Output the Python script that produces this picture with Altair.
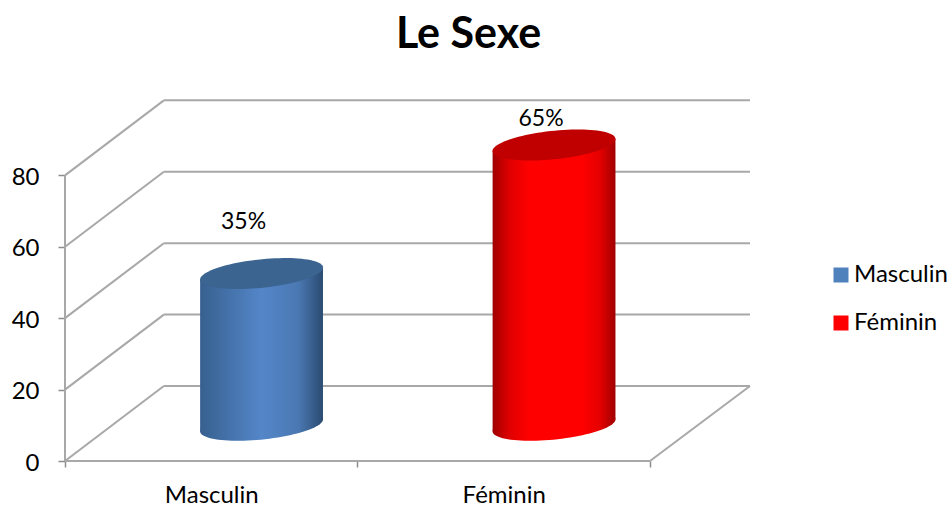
import altair as alt
import numpy as np
import pandas as pd

# Survey counts per sex and the axis levels of the chart
categories = ["Masculin", "Féminin"]
counts = [42.5, 78.5]
levels = [0, 20, 40, 60, 80]

FONT = "Lato"
GRID = "#a8a8a8"
X_MAX = 2.342      # right end of the back wall, in category units
Y_MAX = 101.1      # top of the back wall, in axis units
DEPTH_X = 0.338    # horizontal shift between front and back planes
DEPTH_Y = 21.0     # vertical shift between front and back planes
MID_X = 0.672      # cylinder centre inside its category slot
MID_Y = 10.0       # cylinder base sits about halfway along the floor depth
HALF_W = 0.21      # cylinder half width
TILT = 1.68        # rise of the rim from its centre to either side

STYLES = {
    "Masculin": dict(
        top="#3c6491",
        stops=[(0, "#37608f"), (0.5, "#5486c8"), (0.8, "#4a78b2"), (1, "#2b4b72")],
        dx=-18, dy=-52,
    ),
    "Féminin": dict(
        top="#c00000",
        stops=[(0, "#a00000"), (0.14, "#e00000"), (0.3, "#ff0000"), (0.72, "#ff0000"), (0.87, "#e60000"), (1, "#a00000")],
        dx=-13, dy=-26,
    ),
}

label_expr = "datum.value==0.5?'{}':datum.value==1.5?'{}':''".format(*categories)
tick_test = "datum.value==0.5||datum.value==1.5"

x_axis = alt.Axis(
    values=[0, 0.5, 1, 1.5, 2],
    title=None, grid=False, domain=False,
    tickSize=6, tickWidth=1.5, tickColor="#8c8c8c",
    tickOpacity={"condition": {"test": tick_test, "value": 0}, "value": 1},
    labelExpr=label_expr, labelOverlap=False, labelPadding=16,
    labelFont=FONT, labelFontSize=24, labelColor="#000000",
)
y_axis = alt.Axis(
    values=levels,
    title=None, grid=False, domain=False,
    tickSize=7, tickWidth=1.5, tickColor="#8c8c8c",
    labelPadding=19, labelOffset=2, labelFont=FONT, labelFontSize=24, labelColor="#000000",
)

xs = alt.Scale(domain=[0, X_MAX], nice=False, zero=False)
ys = alt.Scale(domain=[0, Y_MAX], nice=False, zero=False)


def X(field="x"):
    return alt.X(f"{field}:Q", scale=xs, axis=x_axis)


def Y(field="y"):
    return alt.Y(f"{field}:Q", scale=ys, axis=y_axis)


def ellipse_path(ratio=0.23, angle_deg=-5.9, n=90):
    """Unit-width tilted ellipse as an SVG path for a custom point shape."""
    t = np.linspace(0, 2 * np.pi, n, endpoint=False)
    a = np.radians(angle_deg)
    px = np.cos(t) * np.cos(a) - ratio * np.sin(t) * np.sin(a)
    py = np.cos(t) * np.sin(a) + ratio * np.sin(t) * np.cos(a)
    pts = [f"{u:.4f},{v:.4f}" for u, v in zip(px, py)]
    return "M" + " L".join(pts) + " Z"


ELLIPSE = ellipse_path()
ELLIPSE_SIZE = 15277

# Wall and floor lines
grid_rows = []
for lv in levels:
    grid_rows.append(dict(x=DEPTH_X, x2=X_MAX, y=lv + DEPTH_Y, y2=lv + DEPTH_Y))
    grid_rows.append(dict(x=0, x2=DEPTH_X, y=lv, y2=lv + DEPTH_Y))
grid_rows.append(dict(x=0, x2=2, y=0, y2=0))
grid_rows.append(dict(x=2, x2=X_MAX, y=0, y2=DEPTH_Y))
grid_rows.append(dict(x=0, x2=0, y=0, y2=levels[-1]))
grid_df = pd.DataFrame(grid_rows)

grid = alt.Chart(grid_df).mark_rule(color=GRID, strokeWidth=2).encode(
    x=X(), x2="x2:Q", y=Y(), y2="y2:Q",
)

layers = [grid]

# Flat-coloured core of each cylinder, which also carries the legend
core_df = pd.DataFrame({
    "sex": categories,
    "x": [i + MID_X - 0.1 for i in range(2)],
    "x2": [i + MID_X + 0.1 for i in range(2)],
    "y": [MID_Y] * 2,
    "y2": [MID_Y + v for v in counts],
})
core = alt.Chart(core_df).mark_bar().encode(
    x=X(), x2="x2:Q", y=Y(), y2="y2:Q",
    color=alt.Color(
        "sex:N",
        sort=categories,
        scale=alt.Scale(domain=categories, range=["#4F81BD", "#FF0000"]),
        legend=alt.Legend(
            title=None, orient="none", legendX=764, legendY=163,
            symbolType="square", symbolSize=225, symbolStrokeWidth=0,
            labelFont=FONT, labelFontSize=24, labelColor="#000000",
            labelOffset=1, rowPadding=24, padding=0,
        ),
    ),
)
layers.append(core)

total = sum(counts)
for i, (sex, value) in enumerate(zip(categories, counts)):
    st = STYLES[sex]
    cx = i + MID_X
    grad = alt.LinearGradient(
        gradient="linear", x1=0, x2=1, y1=0, y2=0,
        stops=[alt.GradientStop(offset=o, color=c) for o, c in st["stops"]],
    )
    body_df = pd.DataFrame({
        "x": [cx - HALF_W, cx + HALF_W],
        "y": [MID_Y - TILT, MID_Y + TILT],
        "y2": [MID_Y + value - TILT, MID_Y + value + TILT],
    })
    base_df = pd.DataFrame({"x": [cx], "y": [MID_Y]})
    top_df = pd.DataFrame({"x": [cx], "y": [MID_Y + value]})
    label_df = pd.DataFrame({
        "x": [cx], "y": [MID_Y + value],
        "label": [f"{round(100 * value / total)}%"],
    })

    layers.append(
        alt.Chart(base_df)
        .mark_point(shape=ELLIPSE, size=ELLIPSE_SIZE, filled=True, fill=grad, opacity=1, strokeWidth=0)
        .encode(x=X(), y=Y())
    )
    layers.append(
        alt.Chart(body_df)
        .mark_area(orient="vertical", fill=grad, opacity=1)
        .encode(x=X(), y=Y(), y2="y2:Q")
    )
    layers.append(
        alt.Chart(top_df)
        .mark_point(shape=ELLIPSE, size=ELLIPSE_SIZE, filled=True, fill=st["top"], opacity=1, strokeWidth=0)
        .encode(x=X(), y=Y())
    )
    layers.append(
        alt.Chart(label_df)
        .mark_text(font=FONT, fontSize=23, color="#000000", dx=st["dx"], dy=st["dy"])
        .encode(x=X(), y=Y(), text="label:N")
    )

chart = (
    alt.layer(*layers)
    .properties(
        width=952,
        height=506,
        padding={"left": 65, "top": 100, "right": 202, "bottom": 45},
        autosize=alt.AutoSizeParams(type="none", contains="padding"),
        title=alt.TitleParams(
            "Le Sexe", font=FONT, fontSize=43, fontWeight="bold", color="#000000",
            anchor="middle", dx=61, offset=42,
        ),
    )
    .configure_view(stroke=None)
)

chart.save("out.html", embed_options={"renderer": "svg", "actions": False})
